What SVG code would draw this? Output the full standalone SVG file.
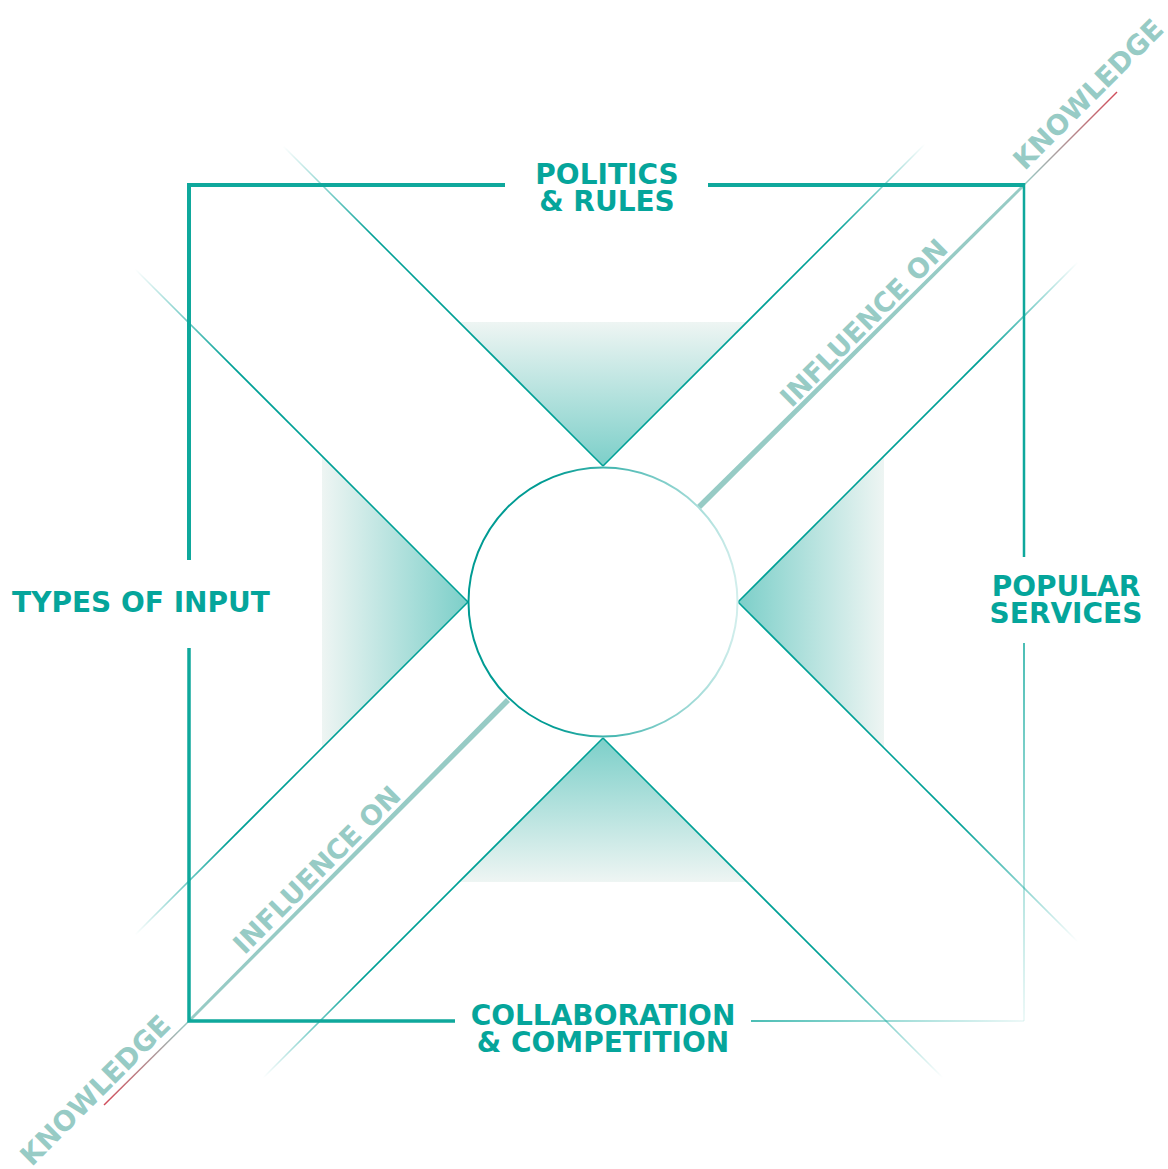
<svg xmlns="http://www.w3.org/2000/svg" width="1168" height="1169" viewBox="0 0 1168 1169">
<style>
.lbl{font-family:"DejaVu Sans","Liberation Sans",sans-serif;font-weight:bold;font-size:28px;fill:#05a59b}
.diag{font-family:"DejaVu Sans","Liberation Sans",sans-serif;font-weight:bold;fill:#97cbc5}
.frame{fill:none;stroke:#0fa89c;stroke-linecap:butt}
.dl{fill:none;stroke-width:1.6}
</style>
<defs>
<linearGradient id="gTop" x1="0" y1="0" x2="0" y2="1"><stop offset="0" stop-color="#eef5f3"/><stop offset="1" stop-color="#7ccfc9"/></linearGradient>
<linearGradient id="gBot" x1="0" y1="1" x2="0" y2="0"><stop offset="0" stop-color="#eef5f3"/><stop offset="1" stop-color="#7ccfc9"/></linearGradient>
<linearGradient id="gLeft" x1="0" y1="0" x2="1" y2="0"><stop offset="0" stop-color="#eef5f3"/><stop offset="1" stop-color="#7ccfc9"/></linearGradient>
<linearGradient id="gRight" x1="1" y1="0" x2="0" y2="0"><stop offset="0" stop-color="#eef5f3"/><stop offset="1" stop-color="#7ccfc9"/></linearGradient>
<linearGradient id="l1" gradientUnits="userSpaceOnUse" x1="603" y1="466" x2="283" y2="146"><stop offset="0.72" stop-color="#00a096"/><stop offset="1" stop-color="#00a096" stop-opacity="0"/></linearGradient>
<linearGradient id="l2" gradientUnits="userSpaceOnUse" x1="603" y1="466" x2="925" y2="144"><stop offset="0.72" stop-color="#00a096"/><stop offset="1" stop-color="#00a096" stop-opacity="0"/></linearGradient>
<linearGradient id="l3" gradientUnits="userSpaceOnUse" x1="468" y1="602" x2="135" y2="269"><stop offset="0.72" stop-color="#00a096"/><stop offset="1" stop-color="#00a096" stop-opacity="0"/></linearGradient>
<linearGradient id="l4" gradientUnits="userSpaceOnUse" x1="468" y1="602" x2="135" y2="935"><stop offset="0.72" stop-color="#00a096"/><stop offset="1" stop-color="#00a096" stop-opacity="0"/></linearGradient>
<linearGradient id="l5" gradientUnits="userSpaceOnUse" x1="738" y1="602" x2="1078" y2="262"><stop offset="0.72" stop-color="#00a096"/><stop offset="1" stop-color="#00a096" stop-opacity="0"/></linearGradient>
<linearGradient id="l6" gradientUnits="userSpaceOnUse" x1="738" y1="602" x2="1078" y2="942"><stop offset="0.65" stop-color="#00a096"/><stop offset="1" stop-color="#00a096" stop-opacity="0"/></linearGradient>
<linearGradient id="l7" gradientUnits="userSpaceOnUse" x1="603" y1="738" x2="263" y2="1078"><stop offset="0.72" stop-color="#00a096"/><stop offset="1" stop-color="#00a096" stop-opacity="0"/></linearGradient>
<linearGradient id="l8" gradientUnits="userSpaceOnUse" x1="603" y1="738" x2="943" y2="1078"><stop offset="0.65" stop-color="#00a096"/><stop offset="1" stop-color="#00a096" stop-opacity="0"/></linearGradient>
<linearGradient id="fR" gradientUnits="userSpaceOnUse" x1="0" y1="643" x2="0" y2="1021"><stop offset="0" stop-color="#0fa89c"/><stop offset="1" stop-color="#0fa89c" stop-opacity="0.1"/></linearGradient>
<linearGradient id="fB" gradientUnits="userSpaceOnUse" x1="751" y1="0" x2="1024" y2="0"><stop offset="0" stop-color="#0fa89c"/><stop offset="1" stop-color="#0fa89c" stop-opacity="0.1"/></linearGradient>
<linearGradient id="kTR" gradientUnits="userSpaceOnUse" x1="1024" y1="185" x2="1117" y2="92"><stop offset="0" stop-color="#97cbc5"/><stop offset="1" stop-color="#d24c5a"/></linearGradient>
<linearGradient id="kBL" gradientUnits="userSpaceOnUse" x1="189" y1="1021" x2="104" y2="1105"><stop offset="0" stop-color="#97cbc5"/><stop offset="1" stop-color="#d24c5a"/></linearGradient>
<linearGradient id="circ" x1="0" y1="0" x2="1" y2="0"><stop offset="0.3" stop-color="#009b93"/><stop offset="1" stop-color="#d2eeec"/></linearGradient>
</defs>

<g id="gradients">
<polygon points="459,322 747,322 603,466" fill="url(#gTop)"/>
<polygon points="459,882 747,882 603,738" fill="url(#gBot)"/>
<polygon points="322,456 322,748 468,602" fill="url(#gLeft)"/>
<polygon points="884,456 884,748 738,602" fill="url(#gRight)"/>
</g>

<g id="connectors">
<line class="dl" x1="603" y1="466" x2="283" y2="146" stroke="url(#l1)"/>
<line class="dl" x1="603" y1="466" x2="925" y2="144" stroke="url(#l2)"/>
<line class="dl" x1="468" y1="602" x2="135" y2="269" stroke="url(#l3)"/>
<line class="dl" x1="468" y1="602" x2="135" y2="935" stroke="url(#l4)"/>
<line class="dl" x1="738" y1="602" x2="1078" y2="262" stroke="url(#l5)"/>
<line class="dl" x1="738" y1="602" x2="1078" y2="942" stroke="url(#l6)"/>
<line class="dl" x1="603" y1="738" x2="263" y2="1078" stroke="url(#l7)"/>
<line class="dl" x1="603" y1="738" x2="943" y2="1078" stroke="url(#l8)"/>
<polygon points="697,505 701,509 1025,186 1023,184" fill="#97cbc5"/>
<polygon points="506,698 510,702 190,1022 188,1020" fill="#97cbc5"/>
<line x1="1024" y1="185" x2="1117" y2="92" stroke="url(#kTR)" stroke-width="1.5"/>
<line x1="189" y1="1021" x2="104" y2="1105" stroke="url(#kBL)" stroke-width="1.5"/>
</g>

<g id="frame">
<path class="frame" d="M189 560 V185 H505" stroke-width="4"/>
<path class="frame" d="M708 185 H1024" stroke-width="4"/>
<path class="frame" d="M189 648 V1021 H455" stroke-width="3.5"/>
<line class="frame" x1="1024" y1="183" x2="1024" y2="557" stroke-width="2.5"/>
<line x1="1024" y1="643" x2="1024" y2="1021" stroke="url(#fR)" stroke-width="1.5"/>
<line x1="751" y1="1021" x2="1024" y2="1021" stroke="url(#fB)" stroke-width="1.5"/>
</g>

<g id="center">
<circle cx="603" cy="602" r="134.5" fill="#fff" stroke="url(#circ)" stroke-width="2"/>
</g>

<g id="node-top"><text class="lbl" x="607" y="184" text-anchor="middle">POLITICS</text><text class="lbl" x="607" y="211" text-anchor="middle">&amp; RULES</text></g>
<g id="node-left"><text class="lbl" x="141" y="612" text-anchor="middle">TYPES OF INPUT</text></g>
<g id="node-right"><text class="lbl" x="1066" y="596" text-anchor="middle">POPULAR</text><text class="lbl" x="1066" y="623" text-anchor="middle">SERVICES</text></g>
<g id="node-bottom"><text class="lbl" x="603" y="1025" text-anchor="middle">COLLABORATION</text><text class="lbl" x="603" y="1052" text-anchor="middle">&amp; COMPETITION</text></g>

<g id="diag-labels">
<text class="diag" font-size="27" text-anchor="middle" transform="translate(870.5 329.5) rotate(-45)">INFLUENCE ON</text>
<text class="diag" font-size="27" text-anchor="middle" transform="translate(323.5 876.5) rotate(-45)">INFLUENCE ON</text>
<text class="diag" font-size="27.5" text-anchor="middle" transform="translate(1095 101) rotate(-45)">KNOWLEDGE</text>
<text class="diag" font-size="27.5" text-anchor="middle" transform="translate(102 1097) rotate(-45)">KNOWLEDGE</text>
</g>
</svg>
